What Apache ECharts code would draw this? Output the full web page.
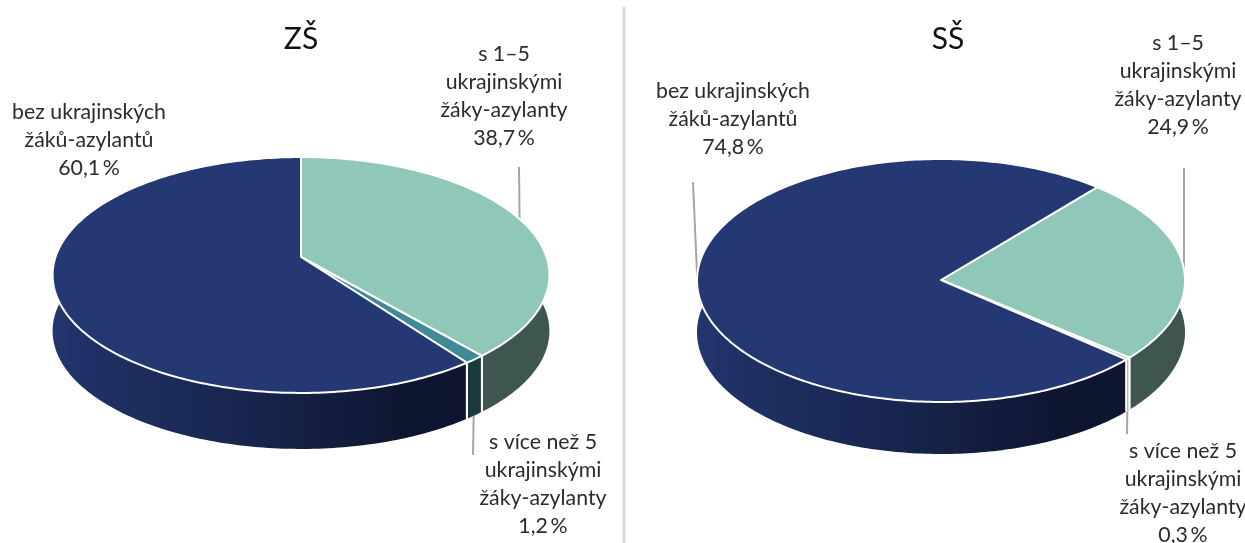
<!DOCTYPE html>
<html>
<head>
<meta charset="utf-8">
<style>
  html, body { margin: 0; background: #fff; }
  #chart { width: 1245px; height: 543px; }
</style>
<script src="https://cdn.jsdelivr.net/npm/echarts@6/dist/echarts.min.js"></script>
</head>
<body>
<div id="chart"></div>
<script>
// slices in clockwise order, as they sit on the pie
const categories = [
  's 1–5\nukrajinskými\nžáky-azylanty',
  's více než 5\nukrajinskými\nžáky-azylanty',
  'bez ukrajinských\nžáků-azylantů'
]
const zsValues = [38.7, 1.2, 60.1]
const ssValues = [24.9, 0.3, 74.8]
const titles = ['ZŠ', 'SŠ']

const topColors = ['#8fc7b8', '#3f8a96', '#243873']
const sideColors = ['#3e564f', '#1b3a3e', null]
const textFont = 'Lato, "Open Sans", sans-serif'

// a,b,k: projection of the disc (k = perspective), labels/leaders per slice
const zsLayout = {
  cx: 301, tipY: 257, a: 245.5, b: 115.2, k: 0.1525, depth: 56, startDeg: 0,
  labels: [[504, 40], [543, 428], [89, 98]],
  leaders: [[519, 167], [473, 455], null]
}
const ssLayout = {
  cx: 941, tipY: 280, a: 244, b: 121.5, k: 0.004, depth: 52, startDeg: 40,
  labels: [[1178, 29], [1183, 437], [733, 77]],
  leaders: [[1184, 168], [1127, 434], [693, 182]]
}

const formatPct = v => v.toFixed(1).replace('.', ',') + '\u2009%'

// pie angle (deg, clockwise from the far side) -> screen point on the top rim
const rimPoint = (g, deg) => {
  const t = deg * Math.PI / 180
  const u = Math.sin(t)
  const v = Math.cos(t)
  const d = 1 + g.k * v
  return [g.cx + g.a * u / d, g.tipY - g.b * v / d]
}

const arcPoints = (g, from, to) => {
  const pts = []
  const n = Math.max(2, Math.ceil(to - from))
  for (let i = 0; i <= n; i++) pts.push(rimPoint(g, from + (to - from) * i / n))
  return pts
}

const navySide = new echarts.graphic.LinearGradient(0, 0, 1, 0, [
  { offset: 0, color: '#22366e' },
  { offset: 0.12, color: '#1e2f62' },
  { offset: 0.5, color: '#17244c' },
  { offset: 0.85, color: '#0e1530' },
  { offset: 1, color: '#0e1530' }
])

const pieSeries = (values, g) => {
  const total = values.reduce((s, v) => s + v, 0)
  return {
    type: 'custom',
    coordinateSystem: 'none',
    silent: true,
    animation: false,
    data: values.map((v, i) => [v, i]),
    renderItem: (params, api) => {
      const value = api.value(0)
      const idx = api.value(1)
      const before = values.slice(0, idx).reduce((s, v) => s + v, 0)
      const from = g.startDeg + before / total * 360
      const to = from + value / total * 360
      const mid = (from + to) / 2
      const rim = arcPoints(g, from, to)
      const lower = rim.map(p => [p[0], p[1] + g.depth]).reverse()
      const children = []

      // leader sits under the pie
      if (g.leaders[idx]) {
        const anchor = rimPoint(g, mid)
        children.push({
          type: 'line',
          z2: 0,
          shape: { x1: anchor[0], y1: anchor[1], x2: g.leaders[idx][0], y2: g.leaders[idx][1] },
          style: { stroke: '#a6a6a6', lineWidth: 2 }
        })
      }

      children.push({
        type: 'polygon',
        z2: 1,
        shape: { points: rim.concat(lower) },
        style: { fill: sideColors[idx] || navySide }
      })

      // white seams on the visible front wall
      ;[from, to].forEach(deg => {
        if (Math.cos(deg * Math.PI / 180) < 0) {
          const p = rimPoint(g, deg)
          children.push({
            type: 'line',
            z2: 2,
            shape: { x1: p[0], y1: p[1], x2: p[0], y2: p[1] + g.depth },
            style: { stroke: '#fff', lineWidth: 2 }
          })
        }
      })

      children.push({
        type: 'polygon',
        z2: 3,
        shape: { points: [[g.cx, g.tipY]].concat(rim) },
        style: { fill: topColors[idx], stroke: '#fff', lineWidth: 2, lineJoin: 'round' }
      })

      children.push({
        type: 'text',
        z2: 4,
        x: g.labels[idx][0],
        y: g.labels[idx][1],
        style: {
          text: categories[idx] + '\n' + formatPct(value),
          font: '21.3px ' + textFont,
          lineHeight: 28,
          fill: '#2b2b2b',
          align: 'center',
          verticalAlign: 'top'
        }
      })

      return { type: 'group', children }
    }
  }
}

const chart = echarts.init(document.getElementById('chart'))
chart.setOption({
  backgroundColor: '#fff',
  animation: false,
  title: titles.map((t, i) => ({
    text: t,
    left: i === 0 ? 301 : 948,
    top: 24,
    padding: 0,
    textAlign: 'center',
    textStyle: { fontFamily: textFont, fontSize: 30, fontWeight: 'normal', color: '#111' }
  })),
  graphic: [{
    type: 'line',
    silent: true,
    shape: { x1: 624, y1: 7, x2: 624, y2: 543 },
    style: { stroke: '#d9d9d9', lineWidth: 3 }
  }],
  series: [pieSeries(zsValues, zsLayout), pieSeries(ssValues, ssLayout)]
})
</script>
</body>
</html>
